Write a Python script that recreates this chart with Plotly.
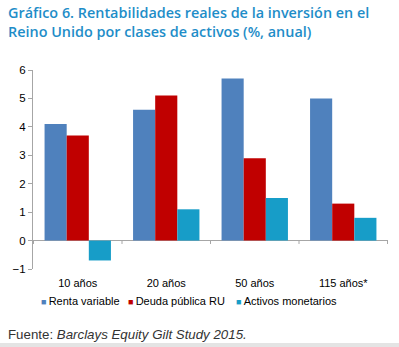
import plotly.graph_objects as go

categories = ["10 años", "20 años", "50 años", "115 años*"]
renta_variable = [4.1, 4.6, 5.7, 5.0]
deuda_publica = [3.7, 5.1, 2.9, 1.3]
activos_monetarios = [-0.7, 1.1, 1.5, 0.8]
series_names = ["Renta variable", "Deuda pública RU", "Activos monetarios"]
colors = ["#4F81BD", "#C00000", "#179DC8"]

L, R, T, B, W, H = 33, 11, 70, 78, 399, 347
PW, PH = W - L - R, H - T - B

def px(x):
    return (x - L) / PW

def py(y):
    return (H - B - y) / PH

fig = go.Figure()
for name, vals, col in zip(series_names, [renta_variable, deuda_publica, activos_monetarios], colors):
    fig.add_trace(go.Bar(x=categories, y=vals, name=name, marker=dict(color=col, line=dict(width=0)),
                         showlegend=False))

# category separator ticks on the zero line
for i in range(len(categories) + 1):
    fig.add_shape(type="line", xref="x", yref="y", x0=i - 0.5, x1=i - 0.5, y0=0, y1=-0.12,
                  line=dict(color="#A6A6A6", width=1))

# bottom grey band
fig.add_shape(type="rect", xref="paper", yref="paper", x0=px(0), x1=px(W), y0=py(343), y1=py(H + 2),
              fillcolor="#E4E4E4", line=dict(width=0), layer="below")

fig.update_layout(
    width=W, height=H,
    margin=dict(l=L, r=R, t=T, b=B),
    paper_bgcolor="white", plot_bgcolor="white",
    barmode="group", bargap=0.25, bargroupgap=0,
    font=dict(family="Liberation Sans, Arial, sans-serif", size=11, color="#000000"),
    showlegend=False,
    xaxis=dict(showline=False, ticks="", showgrid=False, zeroline=False,
               tickfont=dict(size=11), ticklabelstandoff=6),
    yaxis=dict(range=[-1, 6], dtick=1, showline=True, linecolor="#A6A6A6", linewidth=1,
               ticks="outside", tickcolor="#A6A6A6", ticklen=4, showgrid=False,
               zeroline=True, zerolinecolor="#A6A6A6", zerolinewidth=1,
               tickfont=dict(size=11.5)),
)

# title
fig.add_annotation(xref="paper", yref="paper", x=px(6), y=py(1), xanchor="left", yanchor="top",
                   align="left", showarrow=False,
                   text="Gráfico 6. Rentabilidades reales de la inversión en el<br>Reino Unido por clases de activos (%, anual)",
                   font=dict(family="Open Sans, sans-serif", size=14.4, color="#1E8DC8", weight=600))

# legend (manual)
legend_x = [39, 126, 234]
for name, col, lx in zip(series_names, colors, legend_x):
    fig.add_annotation(xref="paper", yref="paper", x=px(lx), y=py(301), xanchor="left", yanchor="middle",
                       showarrow=False, align="left",
                       text=f"<span style='color:{col};font-size:9px'>■</span>\u2009{name}",
                       font=dict(size=11, color="#000000"))

# source
fig.add_annotation(xref="paper", yref="paper", x=px(6), y=py(325), xanchor="left", yanchor="top",
                   align="left", showarrow=False,
                   text="Fuente: <i>Barclays Equity Gilt Study 2015.</i>",
                   font=dict(family="Liberation Sans, sans-serif", size=13.3, color="#333333"))

fig.write_html("out.html")
